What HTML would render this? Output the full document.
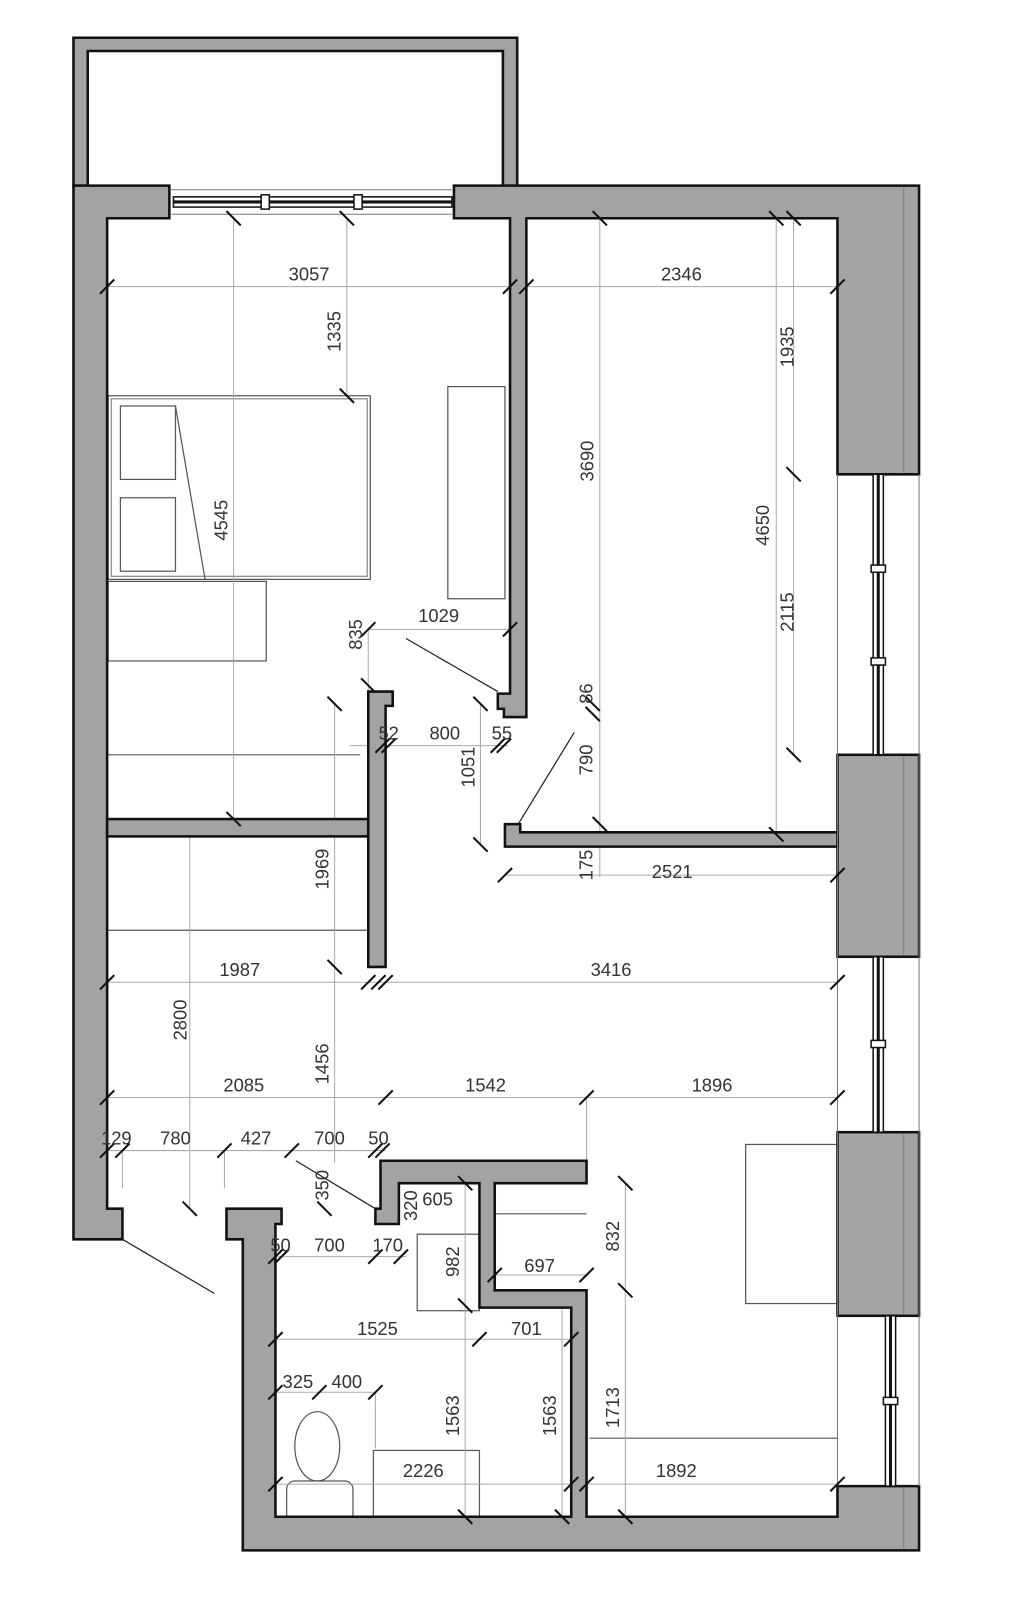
<!DOCTYPE html>
<html><head><meta charset="utf-8"><style>
html,body{margin:0;padding:0;background:#fff;width:1009px;height:1600px;overflow:hidden}
svg{display:block}
text{font-family:"Liberation Sans",sans-serif;font-size:18px;fill:#333}
</style></head><body>
<svg width="1009" height="1600" viewBox="0 0 1009 1600" xmlns="http://www.w3.org/2000/svg">
<g transform="translate(-2,0) scale(1.02)">
<!-- furniture / thin lines -->
<g fill="none" stroke="#555" stroke-width="1.2">
<rect x="108" y="388" width="257" height="180"/>
<rect x="111" y="391" width="251" height="174" stroke="#888"/>
<rect x="120" y="398" width="54" height="72"/>
<rect x="120" y="488" width="54" height="72"/>
<line x1="174" y1="398" x2="203" y2="568"/>
<rect x="108" y="570" width="155" height="78"/>
<line x1="108" y1="740" x2="355" y2="740"/>
<rect x="441" y="379" width="56" height="208"/>
<line x1="108" y1="912" x2="363" y2="912"/>
<rect x="733" y="1122" width="90" height="156"/>
<line x1="580" y1="1410" x2="823" y2="1410"/>
<rect x="411" y="1210" width="61" height="75"/>
<line x1="487" y1="1190" x2="577" y2="1190"/>
<rect x="368" y="1422" width="104" height="65"/>
<ellipse cx="313" cy="1418" rx="22" ry="34"/>
<rect x="283" y="1452" width="65" height="40" rx="8"/>
<line x1="400" y1="626" x2="490" y2="678" stroke="#222"/>
<line x1="510" y1="808" x2="565" y2="718" stroke="#222"/>
<line x1="292" y1="1138" x2="370" y2="1185" stroke="#222"/>
<line x1="122" y1="1215" x2="212" y2="1268" stroke="#222"/>
<line x1="487" y1="1282" x2="560" y2="1282" stroke="#2a8a2a"/>
</g>
<!-- dimension lines -->
<g stroke="#aaa" stroke-width="1" fill="none">
<line x1="107" y1="281" x2="502" y2="281"/><line x1="518" y1="281" x2="830" y2="281"/>
<line x1="363" y1="617" x2="502" y2="617"/>
<line x1="345" y1="731" x2="500" y2="731"/>
<line x1="497" y1="858" x2="823" y2="858"/>
<line x1="107" y1="963" x2="823" y2="963"/>
<line x1="107" y1="1076" x2="823" y2="1076"/>
<line x1="107" y1="1128" x2="380" y2="1128"/>
<line x1="272" y1="1232" x2="400" y2="1232"/>
<line x1="487" y1="1250" x2="577" y2="1250"/>
<line x1="272" y1="1313" x2="562" y2="1313"/>
<line x1="272" y1="1365" x2="370" y2="1365"/>
<line x1="272" y1="1455" x2="823" y2="1455"/>
<line x1="231" y1="214" x2="231" y2="803"/>
<line x1="342" y1="214" x2="342" y2="388"/>
<line x1="590" y1="214" x2="590" y2="860"/>
<line x1="763" y1="214" x2="763" y2="818"/>
<line x1="780" y1="214" x2="780" y2="740"/>
<line x1="363" y1="617" x2="363" y2="680"/>
<line x1="473" y1="690" x2="473" y2="828"/>
<line x1="330" y1="690" x2="330" y2="1140"/>
<line x1="188" y1="820" x2="188" y2="1185"/>
<line x1="122" y1="1128" x2="122" y2="1165"/>
<line x1="222" y1="1128" x2="222" y2="1165"/>
<line x1="458" y1="1160" x2="458" y2="1487"/>
<line x1="553" y1="1282" x2="553" y2="1487"/>
<line x1="615" y1="1160" x2="615" y2="1487"/>
<line x1="577" y1="1076" x2="577" y2="1138"/>
<line x1="370" y1="1365" x2="370" y2="1420"/>
</g>
<!-- walls -->
<g fill="#a3a3a3" stroke="#111" stroke-width="2.5" stroke-linejoin="miter">
<path d="M74,37 H509 V182 H495 V50 H88 V182 H74 Z"/>
<path d="M74,182 H168 V214 H107 V1185 H122 V1215 H74 Z"/>
<path d="M447,182 H903 V465 H823 V214 H518 V703 H496 V695 H490 V680 H502 V214 H447 Z"/>
<rect x="823" y="740" width="80" height="198"/>
<rect x="823" y="1110" width="80" height="180"/>
<path d="M823,1457 H903 V1520 H240 V1215 H224 V1185 H278 V1200 H272 V1487 H562 V1282 H472 V1160 H393 V1200 H370 V1185 H375 V1138 H577 V1160 H487 V1265 H577 V1487 H823 Z"/>
<rect x="107" y="803" width="256" height="17"/>
<path d="M363,678 H387 V692 H380 V948 H363 Z"/>
<path d="M497,808 H512 V816 H823 V830 H497 Z"/>
</g>
<g stroke="#777" stroke-width="1">
<line x1="888" y1="184" x2="888" y2="463"/><line x1="888" y1="742" x2="888" y2="936"/>
<line x1="888" y1="1112" x2="888" y2="1288"/><line x1="888" y1="1459" x2="888" y2="1518"/>
<line x1="823" y1="465" x2="823" y2="1457"/><line x1="903" y1="465" x2="903" y2="1457"/>
<line x1="170" y1="186" x2="445" y2="186"/><line x1="170" y1="210" x2="445" y2="210"/>
</g>
<!-- windows -->
<g stroke="#111" fill="#fff" stroke-width="1.5">
<rect x="172" y="193" width="273" height="10"/>
<line x1="172" y1="198" x2="445" y2="198" stroke-width="3"/>
<rect x="258" y="191" width="8" height="14"/><rect x="349" y="191" width="8" height="14"/>
<rect x="858" y="465" width="10" height="275"/><line x1="863" y1="465" x2="863" y2="740" stroke-width="3"/>
<rect x="858" y="938" width="10" height="172"/><line x1="863" y1="938" x2="863" y2="1110" stroke-width="3"/>
<rect x="870" y="1290" width="10" height="167"/><line x1="875" y1="1290" x2="875" y2="1457" stroke-width="3"/>
<rect x="856" y="554" width="14" height="7"/><rect x="856" y="645" width="14" height="7"/>
<rect x="856" y="1020" width="14" height="7"/><rect x="868" y="1370" width="14" height="7"/>
</g>
<!-- ticks -->
<path stroke="#111" stroke-width="2" fill="none" d="
M100,288l14,-14 M495,288l14,-14 M511,288l14,-14 M816,288l14,-14
M356,624l14,-14 M495,624l14,-14
M370,738l14,-14 M376,738l14,-14 M483,738l14,-14 M489,738l14,-14
M490,865l14,-14 M816,865l14,-14
M100,970l14,-14 M356,970l14,-14 M366,970l14,-14 M373,970l14,-14 M816,970l14,-14
M100,1083l14,-14 M373,1083l14,-14 M570,1083l14,-14 M816,1083l14,-14
M100,1135l14,-14 M115,1135l14,-14 M215,1135l14,-14 M281,1135l14,-14 M363,1135l14,-14 M370,1135l14,-14
M265,1239l14,-14 M271,1239l14,-14 M363,1239l14,-14 M388,1239l14,-14
M480,1257l14,-14 M570,1257l14,-14
M265,1320l14,-14 M465,1320l14,-14 M555,1320l14,-14
M265,1372l14,-14 M308,1372l14,-14 M363,1372l14,-14
M265,1462l14,-14 M555,1462l14,-14 M570,1462l14,-14 M816,1462l14,-14
M224,207l14,14 M224,796l14,14 M335,207l14,14 M335,381l14,14
M583,207l14,14 M583,801l14,14 M756,207l14,14 M756,811l14,14
M773,207l14,14 M773,458l14,14 M773,733l14,14 M323,683l14,14 M323,941l14,14
M466,683l14,14 M466,821l14,14 M576,683l14,14 M576,693l14,14
M181,1178l14,14 M608,1153l14,14 M608,1258l14,14 M608,1480l14,14
M451,1153l14,14 M451,1273l14,14 M451,1480l14,14 M546,1480l14,14 M356,665l14,14 M313,1178l14,14"/>
<!-- labels -->
<g text-anchor="middle">
<text x="305" y="275">3057</text><text x="670" y="275">2346</text>
<text x="432" y="610">1029</text>
<text x="438" y="725">800</text><text x="383" y="725">52</text><text x="494" y="725">55</text>
<text x="661" y="861">2521</text>
<text x="237" y="957">1987</text><text x="601" y="957">3416</text>
<text x="241" y="1070">2085</text><text x="478" y="1070">1542</text><text x="700" y="1070">1896</text>
<text x="116" y="1122">129</text><text x="174" y="1122">780</text><text x="253" y="1122">427</text><text x="325" y="1122">700</text><text x="373" y="1122">50</text>
<text x="277" y="1227">50</text><text x="325" y="1227">700</text><text x="382" y="1227">170</text>
<text x="431" y="1182">605</text>
<text x="531" y="1247">697</text>
<text x="372" y="1309">1525</text><text x="518" y="1309">701</text>
<text x="294" y="1361">325</text><text x="342" y="1361">400</text>
<text x="417" y="1448">2226</text><text x="665" y="1448">1892</text>
<text transform="translate(225,510) rotate(-90)">4545</text>
<text transform="translate(336,325) rotate(-90)">1335</text>
<text transform="translate(584,452) rotate(-90)">3690</text>
<text transform="translate(756,515) rotate(-90)">4650</text>
<text transform="translate(780,340) rotate(-90)">1935</text>
<text transform="translate(780,600) rotate(-90)">2115</text>
<text transform="translate(357,622) rotate(-90)">835</text>
<text transform="translate(583,680) rotate(-90)">86</text>
<text transform="translate(583,745) rotate(-90)">790</text>
<text transform="translate(583,848) rotate(-90)">175</text>
<text transform="translate(467,752) rotate(-90)">1051</text>
<text transform="translate(324,852) rotate(-90)">1969</text>
<text transform="translate(324,1043) rotate(-90)">1456</text>
<text transform="translate(185,1000) rotate(-90)">2800</text>
<text transform="translate(324,1162) rotate(-90)">350</text>
<text transform="translate(411,1182) rotate(-90)">320</text>
<text transform="translate(452,1237) rotate(-90)">982</text>
<text transform="translate(452,1388) rotate(-90)">1563</text>
<text transform="translate(547,1388) rotate(-90)">1563</text>
<text transform="translate(609,1212) rotate(-90)">832</text>
<text transform="translate(609,1380) rotate(-90)">1713</text>
</g>
</g>
</svg>
</body></html>
